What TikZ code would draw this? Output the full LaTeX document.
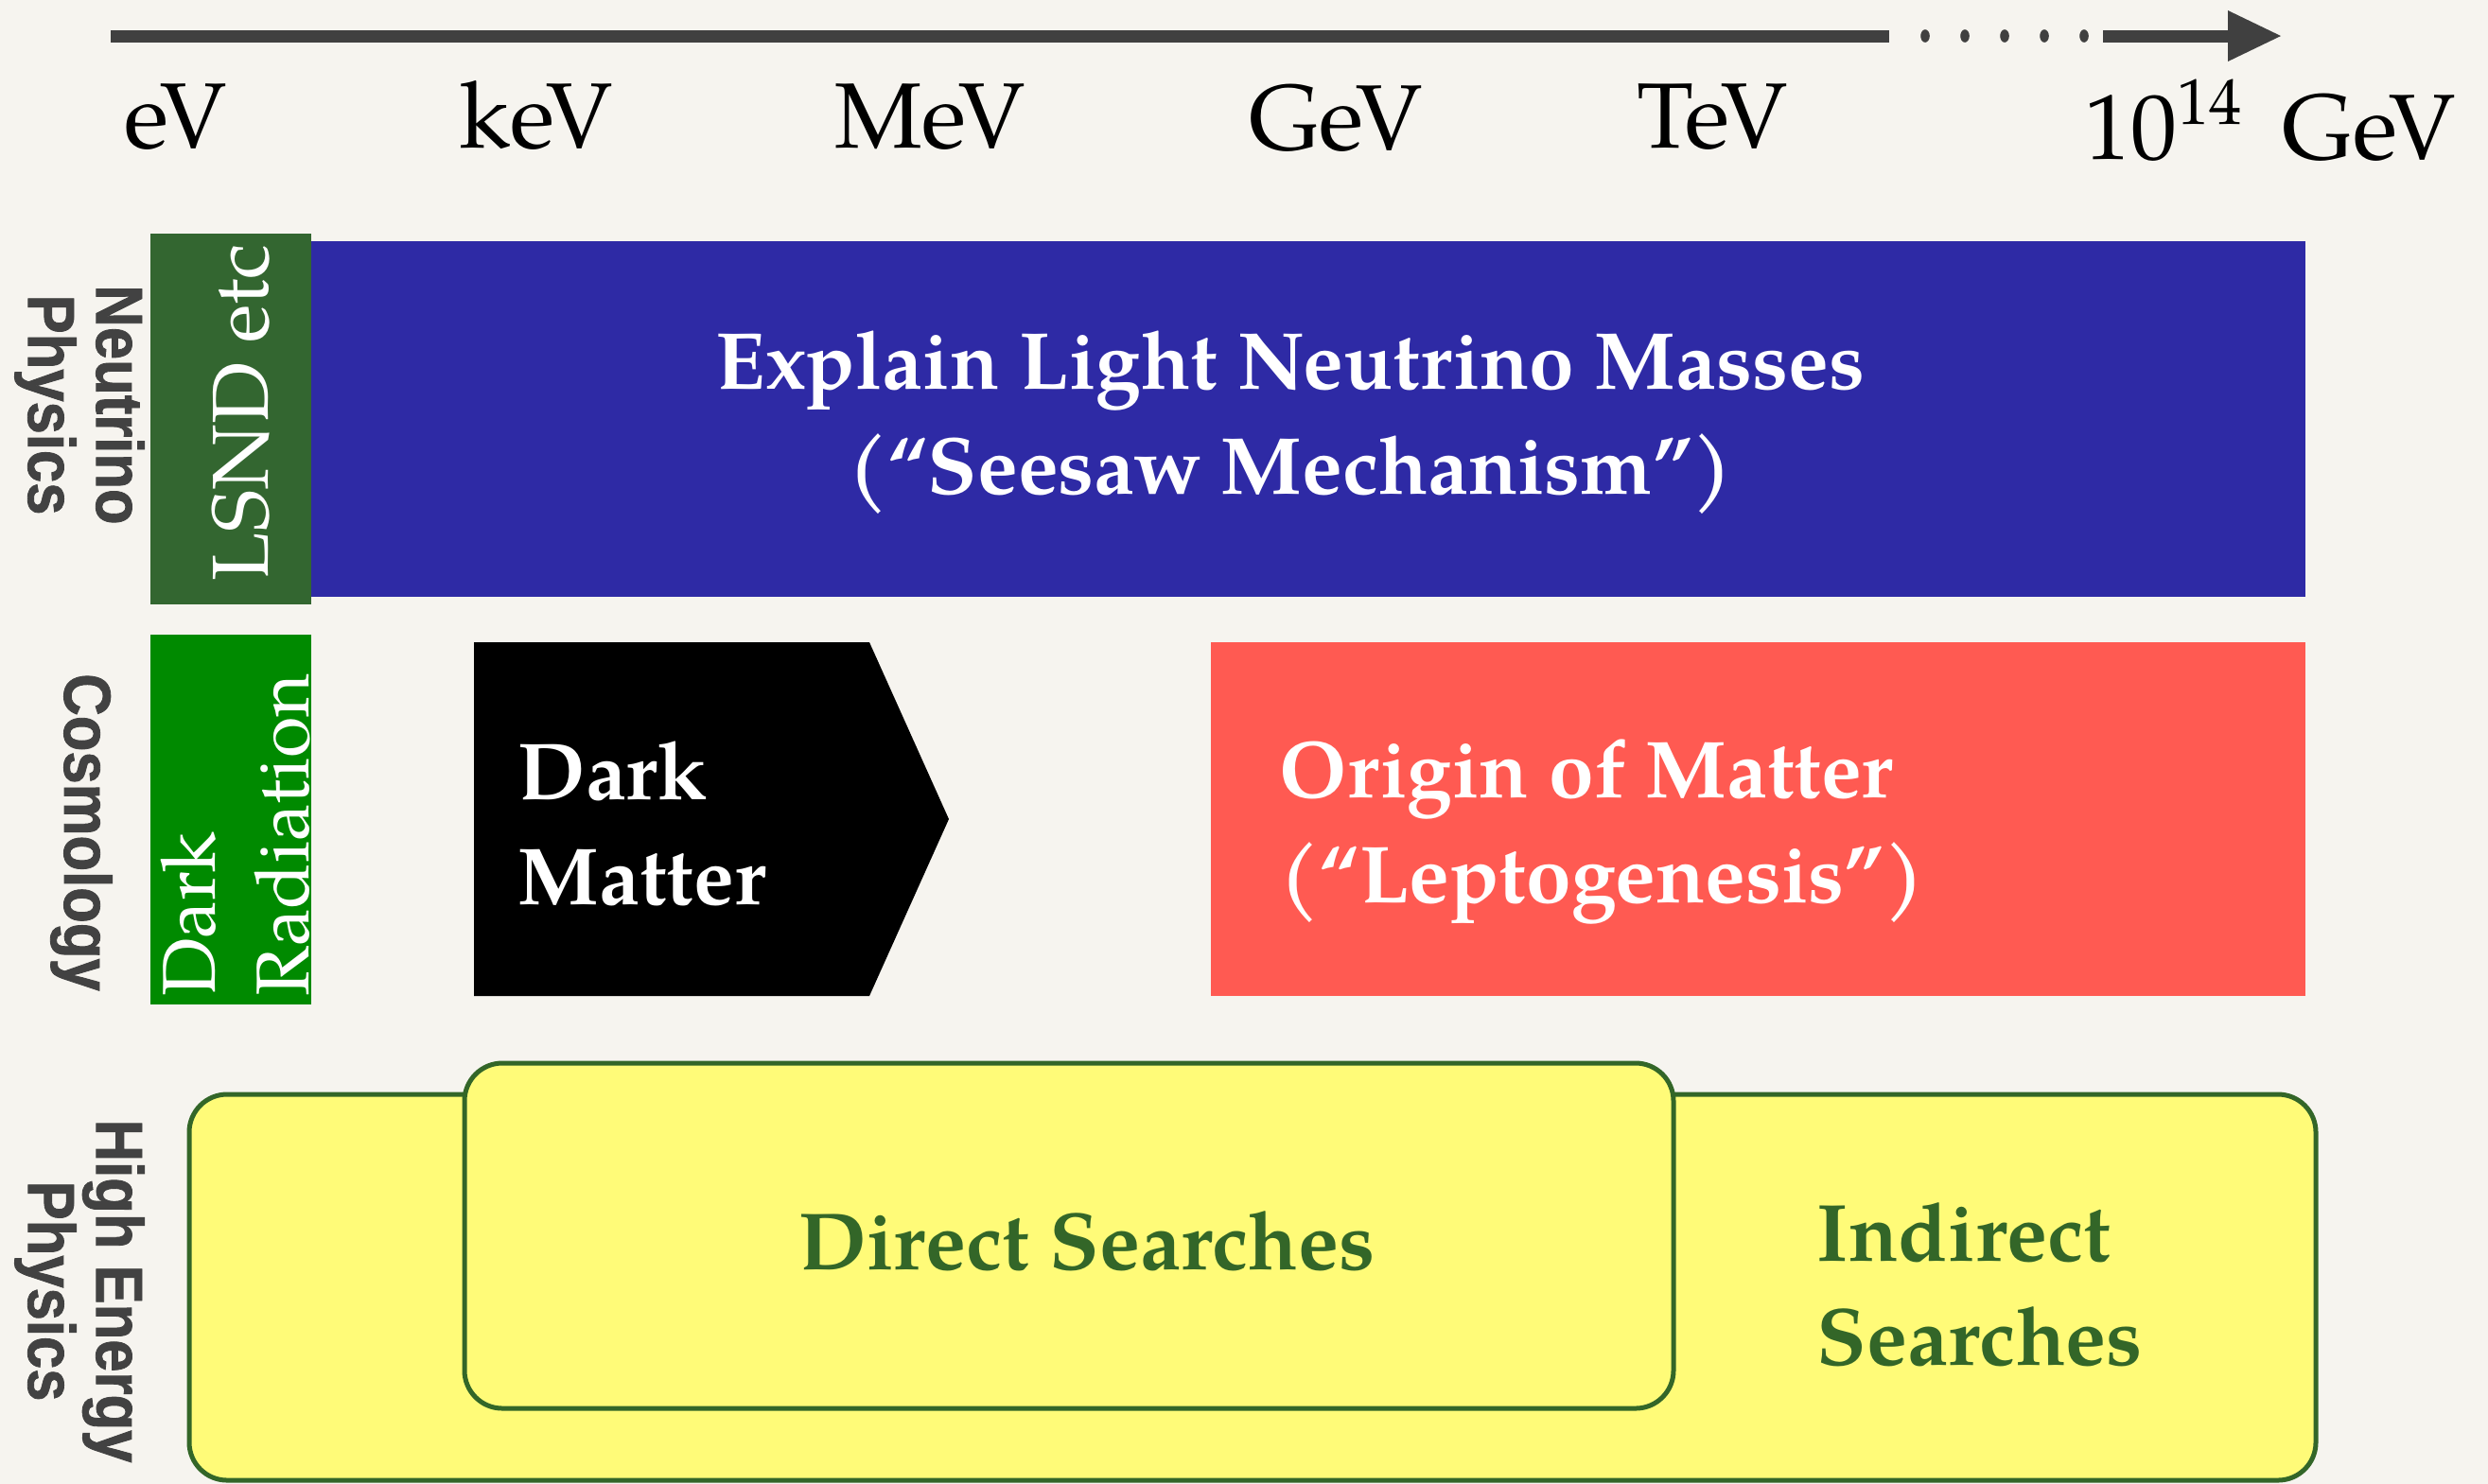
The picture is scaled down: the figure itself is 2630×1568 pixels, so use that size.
\documentclass[tikz,border=0pt]{standalone}
\usepackage{fontspec}
\setmainfont{TeX Gyre Pagella}
\newfontfamily\sidefont[FakeStretch=0.88,FakeBold=1.2]{Liberation Sans Bold}
\definecolor{bgl}{HTML}{F6F4EF}
\definecolor{bgd}{HTML}{E3E0DB}
\definecolor{axisgray}{HTML}{404040}
\definecolor{lsnd}{HTML}{336630}
\definecolor{seesaw}{HTML}{2E2AA5}
\definecolor{darkrad}{HTML}{008A00}
\definecolor{origin}{HTML}{FF5A52}
\definecolor{yel}{HTML}{FFFB78}
\definecolor{yedge}{HTML}{336628}
\definecolor{sidegray}{HTML}{424242}
\begin{document}
\begin{tikzpicture}[x=0.25pt,y=-0.25pt,
  lbl/.style={font=\fontsize{24.5}{28}\selectfont, text=black, inner sep=0pt, anchor=base},
  boxtxt/.style={font=\fontsize{21.4}{27.75}\selectfont\bfseries, text=white, inner sep=0pt},
  rottxt/.style={font=\fontsize{19.8}{24.75}\selectfont, text=white, inner sep=0pt, rotate=90, align=left},
  side/.style={font=\sidefont\fontsize{17.5}{18}\selectfont, text=sidegray, rotate=-90, align=center, inner sep=0pt},
  band/.style={anchor=north west, inner sep=0pt, outer sep=0pt},
  ybox/.style={draw=yedge, fill=yel, line width=1.25pt, rounded corners=10pt},
  gtxt/.style={font=\fontsize{21.5}{27.5}\selectfont\bfseries, text=yedge, inner sep=0pt}]
\useasboundingbox (0,0) rectangle (2630,1568);
\shade[top color=bgl, middle color=bgd, bottom color=bgl] (0,0) rectangle (2630,1568);
% energy axis
\draw[axisgray, line width=3.25pt] (117,38) -- (1997,38);
\foreach \xx in {2035,2077,2119,2161,2203} \fill[axisgray] (\xx,38) ellipse (1.2pt and 1.7pt);
\draw[axisgray, line width=3.25pt] (2223,38) -- (2360,38);
\fill[axisgray] (2355,11) -- (2411,38) -- (2355,65) -- cycle;
\node[lbl] (ev) at (186,156) {eV};
\node[lbl] (kev) at (567,156) {keV};
\node[lbl] (mev) at (983,156) {MeV};
\node[lbl] (gev) at (1412,158) {GeV};
\node[lbl] (tev) at (1810,156) {TeV};
\node[lbl] (pev) at (2400,168) {10\textsuperscript{14}\, GeV};
% side labels
\node[side] (nuphys) at (84,428) {Neutrino\\Physics};
\node[side] (cosmo) at (86,880) {Cosmology};
\node[side] (hep) at (84,1365) {High Energy\\Physics};
% neutrino row
\node[band, fill=lsnd, minimum width=42.5pt, minimum height=98pt] (lsndbox) at (159,247) {};
\node[band, fill=seesaw, minimum width=527pt, minimum height=94pt] (seesawbox) at (329,255) {};
\node[rottxt, font=\fontsize{21}{24.75}\selectfont] (lsndtxt) at (255,436) {LSND etc};
\node[boxtxt, align=center] (seesawtxt) at (1364,447) {Explain Light Neutrino Masses\\(“Seesaw Mechanism”)};
% cosmology row
\node[band, fill=darkrad, minimum width=42.5pt, minimum height=97.75pt] (drbox) at (159,671) {};
\node[rottxt] (drtxt) at (249,883) {Dark\\Radiation};
\path[fill=black] (501,679) -- (919,679) -- (1003,866) -- (919,1053) -- (501,1053) -- cycle;
\node[boxtxt, align=left, anchor=west] (dmtxt) at (547,871) {Dark\\Matter};
\node[band, fill=origin, minimum width=289.25pt, minimum height=93.5pt] (originbox) at (1280,679) {};
\node[boxtxt, align=left, anchor=west] (origintxt) at (1352,880) {Origin of Matter\\(“Leptogenesis”)};
% high energy row
\draw[ybox] (200,1157) rectangle (2448,1565);
\draw[ybox] (491,1124) rectangle (1769,1489);
\node[gtxt, anchor=base] (direct) at (1149,1342) {Direct Searches};
\node[gtxt, align=left, anchor=west] (indirect) at (1920,1358) {Indirect\\Searches};
\end{tikzpicture}
\end{document}
